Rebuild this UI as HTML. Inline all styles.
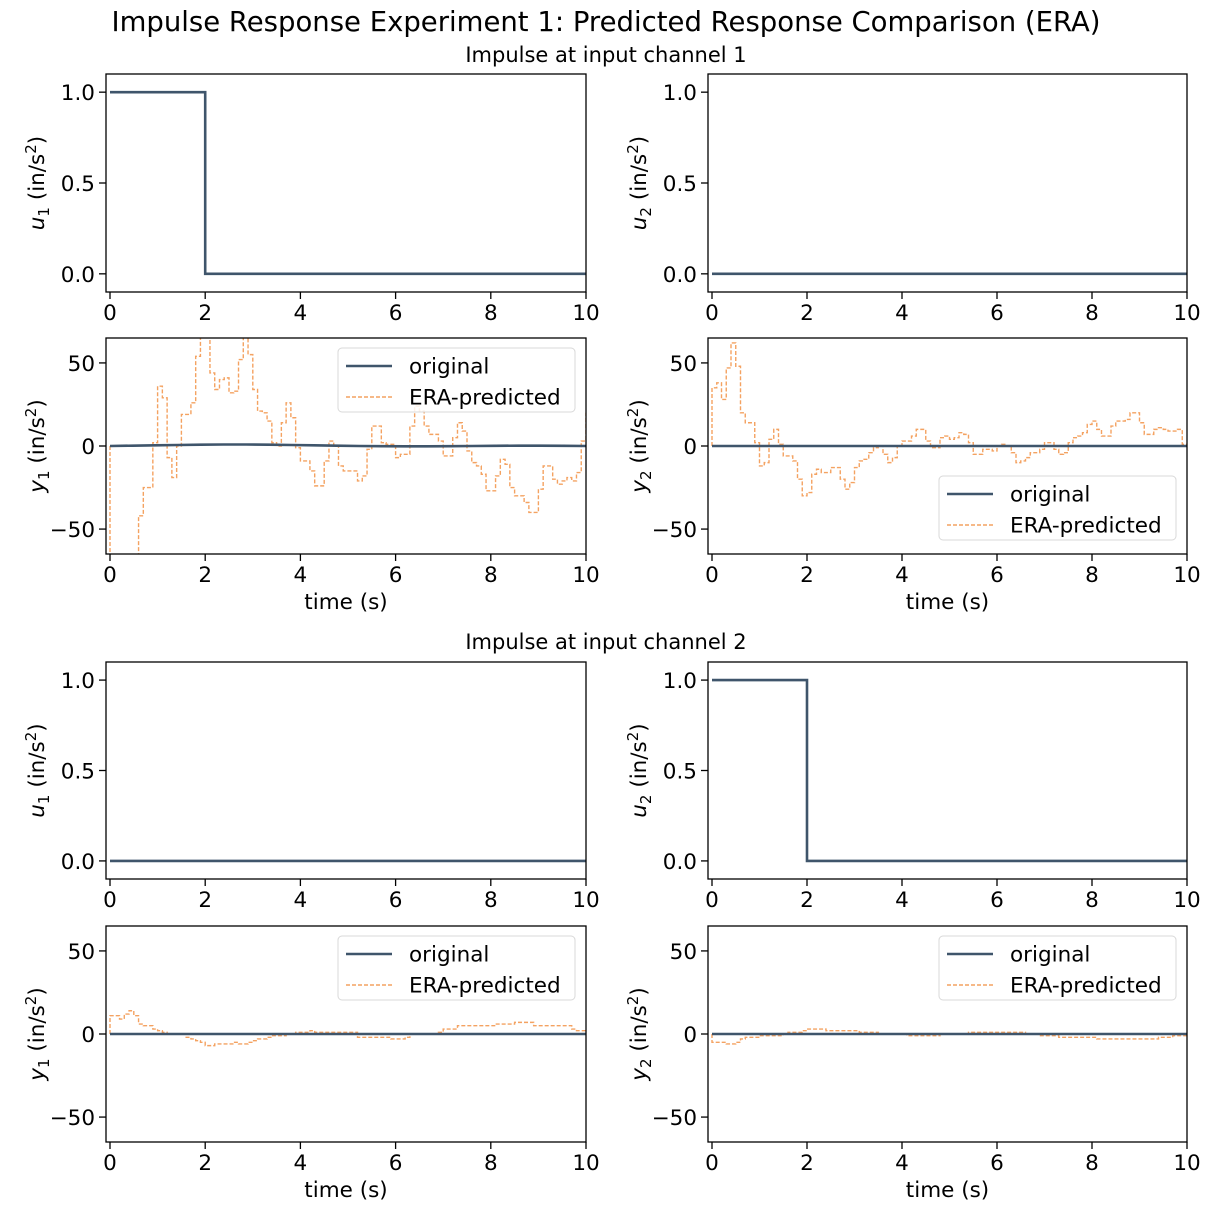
<!DOCTYPE html>
<html><head><meta charset="utf-8"><style>
html,body{margin:0;padding:0;background:#fff;}
svg{display:block;font-family:"DejaVu Sans","Liberation Sans",sans-serif;}
</style></head><body>
<svg id="chart" width="1211" height="1211" viewBox="0 0 1211 1211" xmlns="http://www.w3.org/2000/svg">
<text x="606" y="31" font-size="27.5" text-anchor="middle">Impulse Response Experiment 1: Predicted Response Comparison (ERA)</text>
<text x="606" y="62" font-size="21" text-anchor="middle">Impulse at input channel 1</text>
<text x="606" y="649" font-size="21" text-anchor="middle">Impulse at input channel 2</text>
</svg>
<script>
// ---- data ----
const timeStep = 0.1;
const xTicks = [0, 2, 4, 6, 8, 10];
const uTicks = [0.0, 0.5, 1.0];
const uTickLabels = ["0.0", "0.5", "1.0"];
const yTicks = [-50, 0, 50];
const yTickLabels = ["\u221250", "0", "50"];
const impulseEnd = 2;
const exp1U1 = [1, 0];
const exp1U2 = [0, 0];
const exp2U1 = [0, 0];
const exp2U2 = [1, 0];
const exp1Y1Original = [0,0.2,0.4,0.6,0.8,0.9,0.9,0.8,0.6,0.4,0.2,0,-0.1,-0.2,-0.2,-0.1,0,0.1,0.2,0.2,0.1,0];
const exp1Y2Original = [0,0,0,0,0,0,0,0,0,0,0,0,0,0,0,0,0,0,0,0,0];
const exp2Y1Original = [0,0,0,0,0,0,0,0,0,0,0,0,0,0,0,0,0,0,0,0,0];
const exp2Y2Original = [0,0,0,0,0,0,0,0,0,0,0,0,0,0,0,0,0,0,0,0,0];
const exp1Y1Era = [-70,-70,-70,-70,-70,-70,-42,-25,-25,2,36,29,-7,-19,0,19,19,26,54,70,70,44,34,40,41,32,33,52,70,55,34,21,20,15,2,0,14,26,17,-1,-9,-9,-15,-24,-24,-9,3,0,-12,-15,-15,-15,-21,-18,-2,12,12,2,1,1,-7,-5,-5,12,24,21,12,7,7,3,-6,-6,5,14,9,-3,-10,-12,-17,-27,-27,-18,-8,-11,-25,-30,-30,-34,-40,-40,-26,-12,-12,-20,-23,-21,-19,-21,-16,3,20];
const exp1Y2Era = [35,38,28,47,62,48,20,14,14,2,-12,-10,4,10,1,-6,-6,-9,-20,-30,-28,-17,-14,-16,-16,-13,-13,-20,-26,-22,-13,-9,-8,-4,-1,0,-5,-10,-7,0,3,3,6,10,10,3,-1,-1,5,6,4,5,8,7,2,-5,-5,-2,-2,-3,0,1,0,-4,-10,-9,-7,-4,-4,-2,2,2,-2,-5,-4,2,5,6,8,13,15,10,6,6,12,15,15,16,20,20,14,7,7,10,11,10,9,9,10,1,1];
const exp2Y1Era = [11,11,9,12,14,11,6,5,5,3,2,1,0,0,0,0,-2,-3,-4,-5,-7,-7,-6,-6,-6,-6,-5,-6,-6,-5,-4,-3,-3,-2,-1,-1,-1,0,0,1,1,1,2,1,1,1,1,1,1,1,1,1,-2,-2,-2,-2,-2,-2,-2,-3,-3,-3,-2,0,0,0,0,0,0,1,3,3,3,5,5,5,5,5,5,5,5,6,6,6,6,7,7,7,7,5,5,5,5,5,5,5,5,3,2,2,2];
const exp2Y2Era = [-5,-5,-5,-6,-6,-5,-3,-2,-2,-2,-1,-1,-1,-1,-1,0,1,1,1,2,3,3,3,3,2,2,2,2,2,2,2,1,1,1,1,0,0,0,0,0,0,-1,-1,-1,-1,-1,-1,-1,0,0,0,0,0,0,1,1,1,1,1,1,1,1,1,1,1,1,0,0,0,-1,-1,-1,-1,-2,-2,-2,-2,-2,-2,-2,-2,-3,-3,-3,-3,-3,-3,-3,-3,-3,-3,-3,-3,-3,-2,-2,-2,-1,-1,-1,-1];

const NS = "http://www.w3.org/2000/svg";
const svg = document.getElementById('chart');
const BLUE = "#3f556b", ORANGE = "#f4a261";
function mk(tag, attrs, parent){ const e=document.createElementNS(NS,tag); for(const k in attrs) e.setAttribute(k,attrs[k]); (parent||svg).appendChild(e); return e; }

const cols = [{x0:106, x1:586, zero:110}, {x0:708, x1:1187, zero:712}];
const rows = [{y0:74,y1:292,kind:'u'},{y0:338,y1:554,kind:'y'},{y0:662,y1:879,kind:'u'},{y0:926,y1:1142,kind:'y'}];

function makeAxes(col,row,name){
  const xmin = -(col.zero-col.x0)/((col.x1-col.zero)/10);
  const xs = v => col.x0 + (v-xmin)/(10-xmin)*(col.x1-col.x0);
  const lim = row.kind==='u' ? [-0.1,1.1] : [-65,65];
  const ys = v => row.y1 - (v-lim[0])/(lim[1]-lim[0])*(row.y1-row.y0);
  const g = mk('g',{});
  
  
  const clipId = 'clip-'+name;
  const cp = mk('clipPath',{id:clipId},g);
  mk('rect',{x:col.x0,y:row.y0,width:col.x1-col.x0,height:row.y1-row.y0},cp);
  const plot = mk('g',{'clip-path':'url(#'+clipId+')'},g);
  xTicks.forEach(t=>{
    const x=xs(t);
    const tk = mk('line',{x1:x,x2:x,y1:row.y1,y2:row.y1+7,stroke:'#000','stroke-width':1.3},g);
    
    
    const lb = mk('text',{x:x,y:row.y1+28,'font-size':21.5,'text-anchor':'middle'},g);
    
    
    lb.textContent=String(t);
  });
  const tv = row.kind==='u'?uTicks:yTicks, tl = row.kind==='u'?uTickLabels:yTickLabels;
  tv.forEach((t,i)=>{
    const y=ys(t);
    const tk = mk('line',{x1:col.x0-7,x2:col.x0,y1:y,y2:y,stroke:'#000','stroke-width':1.3},g);
    
    
    const lb = mk('text',{x:col.x0-11,y:y+8,'font-size':21.5,'text-anchor':'end'},g);
    
    
    lb.textContent=tl[i];
  });
  const fr = mk('rect',{x:col.x0,y:row.y0,width:col.x1-col.x0,height:row.y1-row.y0,fill:'none',stroke:'#000','stroke-width':1.3},g);
  
  
  return {g,plot,xs,ys};
}

function yLabel(col,row,sym,idx){
  const cx = col.x0-62, cy=(row.y0+row.y1)/2;
  const t = mk('text',{x:cx,y:cy,'font-size':21.5,'text-anchor':'middle',transform:'rotate(-90 '+cx+' '+cy+')'});
  
  
  t.innerHTML = '<tspan font-style="italic">'+sym+'</tspan><tspan font-size="15" dy="5">'+idx+'</tspan><tspan dy="-5"> (in/s</tspan><tspan font-size="15" dy="-8">2</tspan><tspan dy="8">)</tspan>';
}
function xLabel(col,row){
  const t = mk('text',{x:(col.x0+col.x1)/2,y:row.y1+55,'font-size':21.5,'text-anchor':'middle'});
  
  
  t.textContent='time (s)';
}

function drawU(ax, arr){
  const d = 'M'+ax.xs(0)+','+ax.ys(arr[0])+' L'+ax.xs(impulseEnd)+','+ax.ys(arr[0])+' L'+ax.xs(impulseEnd)+','+ax.ys(arr[1])+' L'+ax.xs(10)+','+ax.ys(arr[1]);
  const p = mk('path',{d:d,fill:'none',stroke:BLUE,'stroke-width':2.6},ax.plot);
  
  
}
function drawOrig(ax, arr){
  const n=arr.length-1;
  let d='';
  arr.forEach((v,i)=>{ d+=(i?'L':'M')+ax.xs(i*10/n)+','+ax.ys(v)+' '; });
  const p = mk('path',{d:d,fill:'none',stroke:BLUE,'stroke-width':2.6},ax.plot);
  
  
}
function drawEra(ax, arr){
  let d='M'+ax.xs(0)+','+ax.ys(0)+' ';
  arr.forEach((v,i)=>{
    const t0=i*timeStep, t1=Math.min((i+1)*timeStep,10);
    d+='L'+ax.xs(t0)+','+ax.ys(v)+' L'+ax.xs(t1)+','+ax.ys(v)+' ';
  });
  const p = mk('path',{d:d,fill:'none',stroke:ORANGE,'stroke-width':1.4,'stroke-dasharray':'4,2'},ax.plot);
  
  
}
function legend(x,y){
  const g = mk('g',{});
  
  
  mk('rect',{x:x,y:y,width:237,height:64,rx:4,fill:'#fff','fill-opacity':0.85,stroke:'#d8d8d8','stroke-width':1},g);
  mk('line',{x1:x+8,x2:x+54,y1:y+18,y2:y+18,stroke:BLUE,'stroke-width':2.6},g);
  const t1 = mk('text',{x:x+71,y:y+25.5,'font-size':21.5},g);
  
  
  t1.textContent='original';
  mk('line',{x1:x+8,x2:x+54,y1:y+49,y2:y+49,stroke:ORANGE,'stroke-width':1.4,'stroke-dasharray':'4,2'},g);
  const t2 = mk('text',{x:x+71,y:y+56.5,'font-size':21.5},g);
  
  
  t2.textContent='ERA-predicted';
}

let a = makeAxes(cols[0],rows[0],'exp1-u1-axes'); drawU(a,exp1U1); yLabel(cols[0],rows[0],'u','1');
a = makeAxes(cols[1],rows[0],'exp1-u2-axes'); drawU(a,exp1U2); yLabel(cols[1],rows[0],'u','2');
a = makeAxes(cols[0],rows[1],'exp1-y1-axes'); drawEra(a,exp1Y1Era); drawOrig(a,exp1Y1Original); yLabel(cols[0],rows[1],'y','1'); xLabel(cols[0],rows[1]); legend(338,348);
a = makeAxes(cols[1],rows[1],'exp1-y2-axes'); drawEra(a,exp1Y2Era); drawOrig(a,exp1Y2Original); yLabel(cols[1],rows[1],'y','2'); xLabel(cols[1],rows[1]); legend(939,476);
a = makeAxes(cols[0],rows[2],'exp2-u1-axes'); drawU(a,exp2U1); yLabel(cols[0],rows[2],'u','1');
a = makeAxes(cols[1],rows[2],'exp2-u2-axes'); drawU(a,exp2U2); yLabel(cols[1],rows[2],'u','2');
a = makeAxes(cols[0],rows[3],'exp2-y1-axes'); drawEra(a,exp2Y1Era); drawOrig(a,exp2Y1Original); yLabel(cols[0],rows[3],'y','1'); xLabel(cols[0],rows[3]); legend(338,936);
a = makeAxes(cols[1],rows[3],'exp2-y2-axes'); drawEra(a,exp2Y2Era); drawOrig(a,exp2Y2Original); yLabel(cols[1],rows[3],'y','2'); xLabel(cols[1],rows[3]); legend(939,936);
</script>
</body></html>
